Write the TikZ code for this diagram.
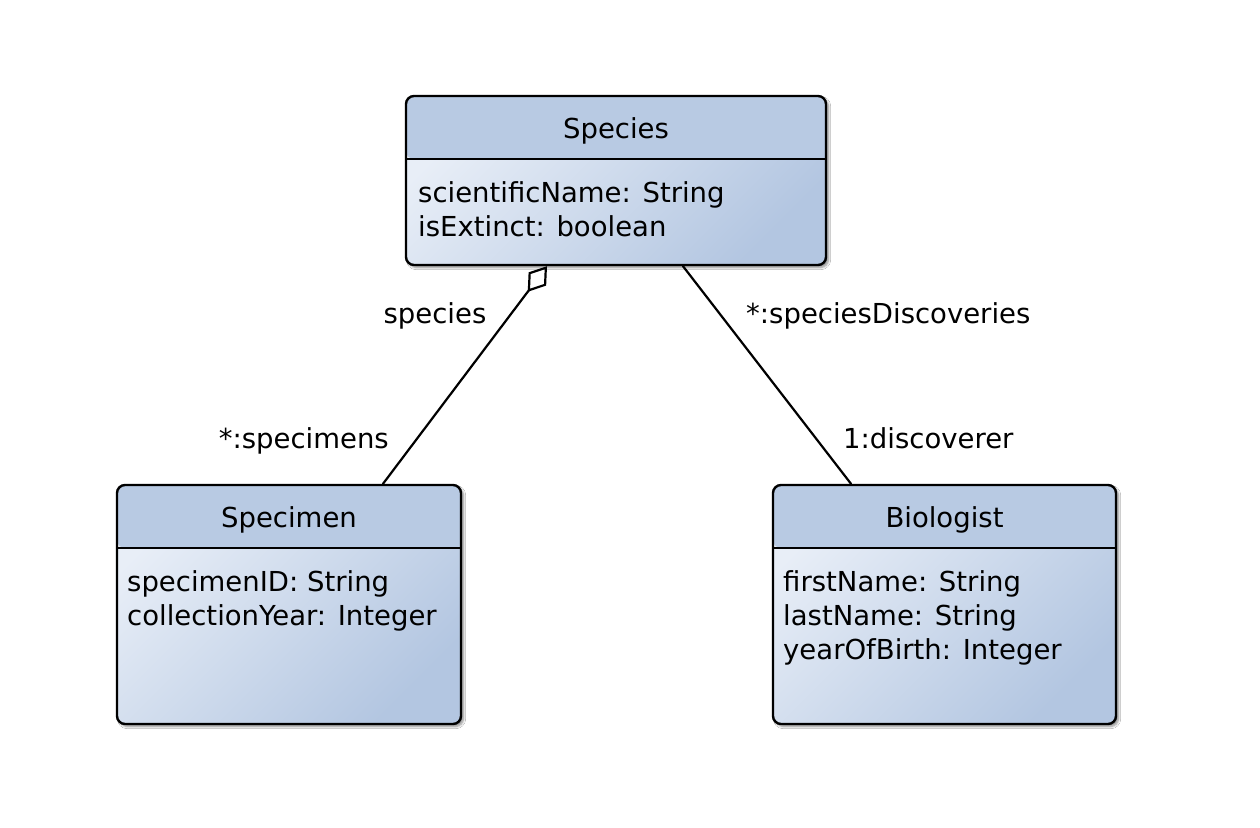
\documentclass[tikz,border=0pt]{standalone}
\usepackage{fontspec}
\setmainfont{DejaVu Sans}
\usetikzlibrary{arrows.meta,shadows.blur,calc}
\definecolor{headcol}{HTML}{B8CAE3}
\definecolor{lightcol}{HTML}{E8EEF7}
\definecolor{darkcol}{HTML}{B3C6E1}
\tikzset{
  umlclass/.style={draw=black, line width=2.4pt, rounded corners=8pt,
    shading=axis, top color=lightcol, bottom color=darkcol, shading angle=45,
    blur shadow={shadow xshift=2.5pt, shadow yshift=-2.5pt, shadow blur steps=6, shadow blur extra rounding=2pt, shadow opacity=45},
    path picture={
      \fill[headcol] (path picture bounding box.north west) rectangle ([yshift=-63pt]path picture bounding box.north east);
      \draw[line width=2pt] ([yshift=-63pt]path picture bounding box.north west) -- ([yshift=-63pt]path picture bounding box.north east);
    }},
  txt/.style={inner sep=0pt, font=\fontsize{27.5}{34}\selectfont},
  conn/.style={line width=2.2pt, line cap=round}
}
\begin{document}
\begin{tikzpicture}[x=1pt,y=-1pt]
\useasboundingbox (0,0) rectangle (1260,827);
\fill[white] (0,0) rectangle (1260,827);
% boxes
\node[umlclass, minimum width=420pt, minimum height=169pt] (species) at (616,180.5) {};
\node[umlclass, minimum width=344pt, minimum height=239pt] (specimen) at (289,604.5) {};
\node[umlclass, minimum width=343pt, minimum height=239pt] (biologist) at (944.5,604.5) {};
% titles
\node[txt, anchor=base] (speciesT) at (616,138) {Species};
\node[txt, anchor=base] (specimenT) at (289,527) {Specimen};
\node[txt, anchor=base] (biologistT) at (944.5,527) {Biologist};
% attributes
\node[txt, anchor=base west] (sa1) at (418,202) {scientificName: String};
\node[txt, anchor=base west] (sa2) at (418,236) {isExtinct: boolean};
\node[txt, anchor=base west] (pa1) at (127,591) {specimenID: String};
\node[txt, anchor=base west] (pa2) at (127,625) {collectionYear: Integer};
\node[txt, anchor=base west] (ba1) at (783,591) {firstName: String};
\node[txt, anchor=base west] (ba2) at (783,625) {lastName: String};
\node[txt, anchor=base west] (ba3) at (783,659) {yearOfBirth: Integer};
% connectors
\draw[conn, -{Diamond[open, length=32pt, width=22pt, line width=2.2pt]}] ([xshift=94pt]specimen.north) -- ([xshift=-69pt]species.south);
\draw[conn] ([xshift=-93.5pt]biologist.north) -- ([xshift=67pt]species.south);
% labels
\node[txt, anchor=base] (l1) at (435,323) {species};
\node[txt, anchor=base east] (l2) at (389,448) {*:specimens};
\node[txt, anchor=base west] (l3) at (746,323) {*:speciesDiscoveries};
\node[txt, anchor=base west] (l4) at (843,448) {1:discoverer};
\end{tikzpicture}
\end{document}
